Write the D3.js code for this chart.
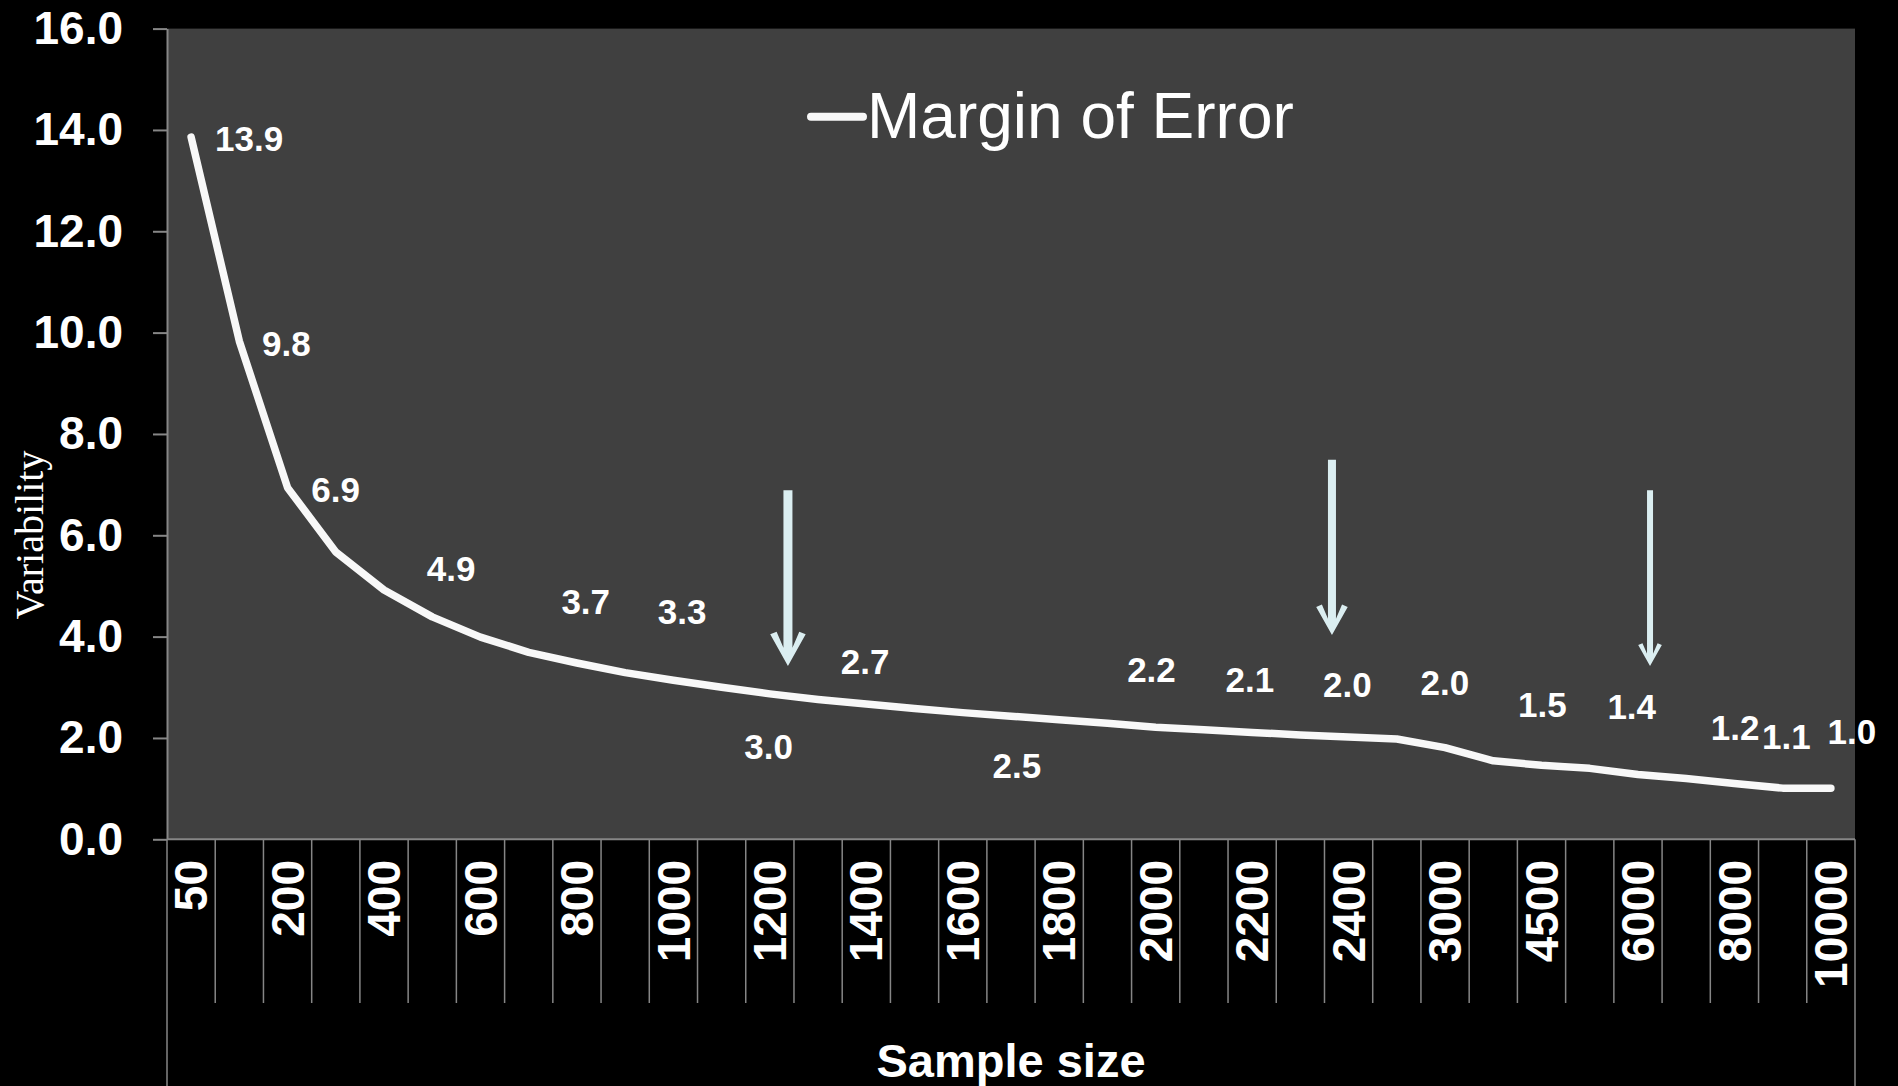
<!DOCTYPE html>
<html>
<head>
<meta charset="utf-8">
<script src="https://cdn.jsdelivr.net/npm/d3@7/dist/d3.min.js"></script>
<style>
  body { margin: 0; background: #000; }
  svg { display: block; }
  text { font-family: "Liberation Sans", Arial, sans-serif; fill: #fff; }
</style>
</head>
<body>
<svg id="chart" width="1898" height="1086"></svg>
<script>

// sample sizes (only every other one gets a label on the axis)
var sampleSizes = ["50","100","200","300","400","500","600","700","800","900",
                   "1000","1100","1200","1300","1400","1500","1600","1700","1800","1900",
                   "2000","2100","2200","2300","2400","2500","3000","4000","4500","5000",
                   "6000","7000","8000","9000","10000"];

// margin of error
var marginOfError = [13.86, 9.83, 6.94, 5.67, 4.92, 4.39, 3.99, 3.69, 3.48, 3.29,
                     3.14, 3.00, 2.87, 2.76, 2.67, 2.58, 2.50, 2.43, 2.36, 2.29,
                     2.21, 2.16, 2.11, 2.06, 2.02, 1.98, 1.81, 1.55, 1.46, 1.40,
                     1.28, 1.20, 1.10, 1.01, 1.01];

var yTicks = [0, 2, 4, 6, 8, 10, 12, 14, 16];

// data labels: which point, the text shown
var labelIdx  = [0, 1, 2, 4, 7, 9, 11, 13, 16, 19, 21, 23, 25, 27, 29, 31, 32, 34];
var labelText = ["13.9","9.8","6.9","4.9","3.7","3.3","3.0","2.7","2.5","2.2","2.1","2.0","2.0","1.5","1.4","1.2","1.1","1.0"];
// where each label sits relative to its point (px)
var labelShift = [[58,2],[47,3],[48,2],[67,-21],[57,-51],[57,-61],[47,59],[47,-38],[54,53],
                  [44,-54],[46,-50],[47,-50],[48,-56],[49,-56],[42,-62],[49,-51],[52,-47],[21,-56]];

// the three arrows: category, fraction into it, top value, tip value, line width
var arrowCat  = ["1200", "2400", "6000"];
var arrowFrac = [0.875, 0.155, 0.75];
var arrowTop  = [6.89, 7.49, 6.89];
var arrowTip  = [3.42, 4.03, 3.42];
var arrowW    = [9, 8, 6];

var plot = {left: 167, right: 1855, top: 28.6, bottom: 839.3};
var axisColor = "#868686";

var svg = d3.select("#chart");

var x = d3.scaleBand()
    .domain(sampleSizes)
    .range([plot.left, plot.right])
    .padding(0);

var y = d3.scaleLinear()
    .domain([0, 16])
    .range([plot.bottom, plot.top]);

// plot background
svg.append("rect")
    .attr("x", plot.left)
    .attr("y", plot.top)
    .attr("width", plot.right - plot.left)
    .attr("height", plot.bottom - plot.top)
    .attr("fill", "#404040");

// y axis
var yAxis = svg.append("g")
    .attr("transform", "translate(" + plot.left + ",0)")
    .call(d3.axisLeft(y).tickValues(yTicks).tickFormat(d3.format(".1f"))
          .tickSize(14).tickSizeOuter(0).tickPadding(30));
yAxis.select(".domain").attr("stroke", axisColor).attr("stroke-width", 2);
yAxis.selectAll(".tick line").attr("stroke", axisColor).attr("stroke-width", 2);
yAxis.selectAll(".tick text")
    .attr("fill", "#fff")
    .style("font-family", "'Liberation Sans', Arial, sans-serif")
    .style("font-weight", "bold")
    .style("font-size", "46px");

// x axis line
svg.append("line")
    .attr("x1", plot.left).attr("x2", plot.right)
    .attr("y1", y(0)).attr("y2", y(0))
    .attr("stroke", axisColor).attr("stroke-width", 2);

// category separators
var edges = sampleSizes.map(function(d) { return x(d); }).concat([x.range()[1]]);
svg.append("g").selectAll("line")
    .data(edges)
  .enter().append("line")
    .attr("x1", function(d) { return d; })
    .attr("x2", function(d) { return d; })
    .attr("y1", y(0))
    .attr("y2", function(d, i) { return (i == 0 || i == edges.length - 1) ? 1086 : 1003; })
    .attr("stroke", axisColor)
    .attr("stroke-width", 1.5);

// category labels, every other one
svg.append("g").selectAll("text")
    .data(sampleSizes.filter(function(d, i) { return i % 2 == 0; }))
  .enter().append("text")
    .attr("transform", function(d) {
      return "translate(" + (x(d) + x.bandwidth() / 2) + ",860) rotate(-90)";
    })
    .attr("dy", "0.35em")
    .attr("text-anchor", "end")
    .style("font-weight", "bold")
    .style("font-size", "46px")
    .text(function(d) { return d; });

svg.append("text")
    .attr("x", (plot.left + plot.right) / 2)
    .attr("y", 1077)
    .attr("text-anchor", "middle")
    .style("font-weight", "bold")
    .style("font-size", "47px")
    .text("Sample size");

svg.append("text")
    .attr("transform", "translate(43,535) rotate(-90)")
    .attr("text-anchor", "middle")
    .style("font-family", "'Liberation Serif', 'Times New Roman', serif")
    .style("font-size", "40px")
    .text("Variability");

// the curve
var line = d3.line()
    .x(function(d, i) { return x(sampleSizes[i]) + x.bandwidth() / 2; })
    .y(function(d) { return y(d); });

svg.append("path")
    .datum(marginOfError)
    .attr("d", line)
    .attr("fill", "none")
    .attr("stroke", "#f8f8f8")
    .attr("stroke-width", 7.5)
    .attr("stroke-linecap", "round")
    .attr("stroke-linejoin", "round");

// data labels
svg.append("g").selectAll("text")
    .data(labelIdx)
  .enter().append("text")
    .attr("x", function(d, i) { return x(sampleSizes[d]) + x.bandwidth() / 2 + labelShift[i][0]; })
    .attr("y", function(d, i) { return y(marginOfError[d]) + labelShift[i][1]; })
    .attr("dy", "0.35em")
    .attr("text-anchor", "middle")
    .style("font-weight", "bold")
    .style("font-size", "35px")
    .text(function(d, i) { return labelText[i]; });

// arrows
svg.append("g").selectAll("path")
    .data(arrowCat)
  .enter().append("path")
    .attr("d", function(d, i) {
      var cx = x(d) + arrowFrac[i] * x.step();
      var t = y(arrowTop[i]), p = y(arrowTip[i]), w = arrowW[i];
      var pts = [[-w / 2, t], [-w / 2, p - 2.03 * w], [-1.26 * w, p - 3.81 * w], [-1.97 * w, p - 3.52 * w],
                 [0, p], [1.97 * w, p - 3.52 * w], [1.26 * w, p - 3.81 * w], [w / 2, p - 2.03 * w], [w / 2, t]];
      return "M" + pts.map(function(q) { return (cx + q[0]) + "," + q[1]; }).join("L") + "Z";
    })
    .attr("fill", "#dbeef1");

// legend
svg.append("line")
    .attr("x1", 811).attr("x2", 863)
    .attr("y1", 116.7).attr("y2", 116.7)
    .attr("stroke", "#f8f8f8")
    .attr("stroke-width", 8)
    .attr("stroke-linecap", "round");

svg.append("text")
    .attr("x", 867)
    .attr("y", 137.7)
    .style("font-size", "64px")
    .text("Margin of Error");

</script>
</body>
</html>
